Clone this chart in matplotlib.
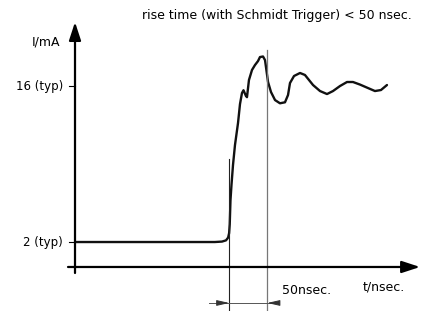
import numpy as np
import matplotlib.pyplot as plt

# Stromverlauf (t in nsec, I in mA)
t_ns = [0, 99, 184, 193.4, 198.7, 201.5, 202.8, 203.6, 204.6, 205.9, 207.9, 210.5, 214.5,
        217.1, 219.7, 221.7, 225, 226.3, 228.9, 232.9, 236.8, 240.8, 243.4, 247.4,
        250, 251.3, 254, 257.9, 263.2, 269.7, 276.3, 280.3, 282.9, 288.2, 296.1,
        302.6, 313.2, 322.4, 331.6, 339.5, 348.7, 357.9, 365.8, 375, 385.5, 394.7,
        402.6, 410.5]
i_ma = [2.0, 2.0, 2.0, 2.04, 2.15, 2.4, 2.8, 3.6, 5.77, 7.12, 8.91, 10.7, 12.68,
        14.38, 15.37, 15.62, 15.1, 15.0, 16.54, 17.44, 17.88, 18.24, 18.6, 18.65,
        18.33, 17.7, 16.36, 15.46, 14.74, 14.45, 14.54, 15.19, 16.27, 16.9, 17.17,
        16.99, 16.09, 15.55, 15.28, 15.55, 16.0, 16.36, 16.36, 16.13, 15.82, 15.55,
        15.64, 16.09]

y_ticks = [2, 16]
y_labels = ['2 (typ)', '16 (typ)']
t_start = 203   # Beginn Anstieg
t_rise = 50     # Anstiegszeit

title = 'rise time (with Schmidt Trigger) < 50 nsec.'

plt.rcParams['font.family'] = ['DejaVu Sans']

fig = plt.figure(figsize=(4.22, 3.11), dpi=100)
ax = fig.add_axes([0, 0, 1, 1])
ax.set_xlim(-98.7, 456.6)
ax.set_ylim(-4.19, 23.72)
ax.axis('off')

axis_y = -0.24
fs = 9

# Achsen mit Pfeilen
ax.annotate('', xy=(454, axis_y), xytext=(-9.2, axis_y),
            arrowprops=dict(arrowstyle='-|>,head_length=1.1,head_width=0.36',
                            mutation_scale=10, lw=1.6, color='black',
                            shrinkA=0, shrinkB=0))
ax.annotate('', xy=(0, 21.74), xytext=(0, -0.78),
            arrowprops=dict(arrowstyle='-|>,head_length=1.1,head_width=0.36',
                            mutation_scale=10, lw=1.6, color='black',
                            shrinkA=0, shrinkB=0))

# Ticks
for yv, lab in zip(y_ticks, y_labels):
    ax.plot([-7.9, 0], [yv, yv], color='black', lw=0.8)
    ax.text(-15.8, yv, lab, ha='right', va='center', fontsize=8.5)

ax.text(-19, 19.95, 'I/mA', ha='right', va='center', fontsize=fs)
ax.text(434, -2.0, 't/nsec.', ha='right', va='center', fontsize=fs)

# Kurve
ax.plot(t_ns, i_ma, color='#111111', lw=1.7, solid_joinstyle='round',
        solid_capstyle='round')

# Hilfslinien
ax.plot([t_start, t_start], [9.45, -4.19], color='#222222', lw=0.8)
ax.plot([t_start + t_rise, t_start + t_rise], [19.23, -4.19], color='#777777', lw=0.9)

# Bemaßung
dim_y = -3.47
dim_style = '-|>,head_length=0.75,head_width=0.17'
ax.plot([176, 265], [dim_y, dim_y], color='#555555', lw=0.7)
ax.annotate('', xy=(t_start, dim_y), xytext=(t_start - 16, dim_y),
            arrowprops=dict(arrowstyle=dim_style, mutation_scale=10, lw=0.7,
                            color='#333333', shrinkA=0, shrinkB=0))
ax.annotate('', xy=(t_start + t_rise, dim_y), xytext=(t_start + t_rise + 16, dim_y),
            arrowprops=dict(arrowstyle=dim_style, mutation_scale=10, lw=0.7,
                            color='#333333', shrinkA=0, shrinkB=0))
ax.text(272, -2.35, '50nsec.', ha='left', va='center', fontsize=fs)

fig.text(412 / 422, 1 - 15 / 311, title, ha='right', va='center', fontsize=fs)

fig.savefig('out.png', dpi=100)
